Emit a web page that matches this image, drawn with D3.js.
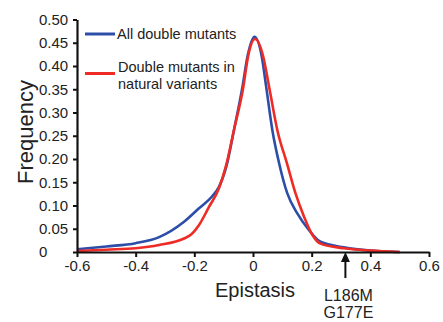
<!DOCTYPE html>
<html><head><meta charset="utf-8">
<script src="https://cdn.jsdelivr.net/npm/d3@7"></script>
<style>body{margin:0;background:#fff}svg{display:block}text{font-family:"Liberation Sans",Arial,sans-serif;fill:#222}</style>
</head><body><svg id="c" width="443" height="322"></svg>
<script>
const xTicks = [-0.6,-0.4,-0.2,0,0.2,0.4,0.6];
const yTicks = [0,0.05,0.1,0.15,0.2,0.25,0.3,0.35,0.4,0.45,0.5];
const seriesNames = ["All double mutants","Double mutants in natural variants"];
const allX = [-0.6,-0.5,-0.4,-0.32,-0.235,-0.184,-0.139,-0.116,-0.088,-0.065,-0.036,-0.019,0.005,0.03,0.045,0.066,0.089,0.117,0.151,0.191,0.23,0.31,0.4,0.45,0.5];
const allY = [0.006,0.012,0.019,0.032,0.065,0.094,0.12,0.14,0.191,0.262,0.355,0.42,0.463,0.42,0.355,0.262,0.191,0.126,0.083,0.047,0.022,0.01,0.003,0.001,0];
const natX = [-0.6,-0.5,-0.4,-0.32,-0.235,-0.212,-0.184,-0.15,-0.116,-0.093,-0.065,-0.033,-0.017,0.007,0.035,0.055,0.083,0.117,0.145,0.174,0.202,0.23,0.31,0.4,0.5];
const natY = [0.002,0.005,0.008,0.015,0.029,0.037,0.058,0.097,0.137,0.183,0.262,0.355,0.42,0.458,0.42,0.355,0.262,0.188,0.126,0.076,0.037,0.018,0.008,0.003,0];
const arrowX = 0.315;
const arrowLabels = ["L186M","G177E"];

const svg = d3.select("#c");
const x = d3.scaleLinear().domain([-0.6,0.6]).range([77,429]);
const y = d3.scaleLinear().domain([0,0.5]).range([252,19.5]);

const line = d3.line().x(d=>x(d[0])).y(d=>y(d[1])).curve(d3.curveMonotoneX);
const colors = ["#2d4ea8","#ee2b25"];
const data = [d3.zip(allX,allY), d3.zip(natX,natY)];
data.forEach((d,i)=>{
  svg.append("path").attr("d",line(d)).attr("fill","none").attr("stroke",colors[i]).attr("stroke-width",2.6).attr("stroke-linejoin","round");
});

const fmtX = v => v===0?"0":v.toFixed(1);
const fmtY = v => v===0?"0":v.toFixed(2);
const gx = svg.append("g").attr("transform","translate(0,252)")
  .call(d3.axisBottom(x).tickValues(xTicks).tickFormat(fmtX).tickSize(5).tickSizeOuter(0).tickPadding(3));
const gy = svg.append("g").attr("transform","translate(77,0)")
  .call(d3.axisLeft(y).tickValues(yTicks).tickFormat(fmtY).tickSize(4).tickSizeOuter(0).tickPadding(3));
[gx,gy].forEach(g=>{
  g.select(".domain").attr("stroke","#111").attr("stroke-width",2.2);
  g.selectAll(".tick line").attr("stroke","#111").attr("stroke-width",2);
  g.selectAll(".tick text").style("font-size","15px").attr("fill","#333").style("font-family","Liberation Sans, Arial, sans-serif");
});
// y tick labels are left-aligned in the reference
gy.selectAll(".tick text").attr("text-anchor","start").attr("x",-38);

svg.append("text").attr("x",255).attr("y",297).attr("text-anchor","middle").style("font-size","20px").text("Epistasis");
svg.append("text").attr("transform","translate(33,132) rotate(-90)").attr("text-anchor","middle").style("font-size","22px").text("Frequency");

// arrow
const ax = x(arrowX);
svg.append("line").attr("x1",ax).attr("x2",ax).attr("y1",258).attr("y2",278).attr("stroke","#111").attr("stroke-width",2);
svg.append("path").attr("d",`M${ax},252 L${ax-4.5},262 L${ax+4.5},262 Z`).attr("fill","#111");
arrowLabels.forEach((t,i)=>{
  svg.append("text").attr("x",ax+3).attr("y",300.5+i*17.5).attr("text-anchor","middle").style("font-size","16px").text(t);
});

// legend
const lg = svg.append("g");
lg.append("line").attr("x1",85).attr("x2",115).attr("y1",34).attr("y2",34).attr("stroke",colors[0]).attr("stroke-width",3);
lg.append("text").attr("x",117).attr("y",39).style("font-size","14.5px").text(seriesNames[0]);
lg.append("line").attr("x1",85).attr("x2",115).attr("y1",73.5).attr("y2",73.5).attr("stroke",colors[1]).attr("stroke-width",3);
lg.append("text").attr("x",118).attr("y",72).style("font-size","14.5px").text("Double mutants in");
lg.append("text").attr("x",118).attr("y",88.5).style("font-size","14.5px").text("natural variants");
</script></body></html>
